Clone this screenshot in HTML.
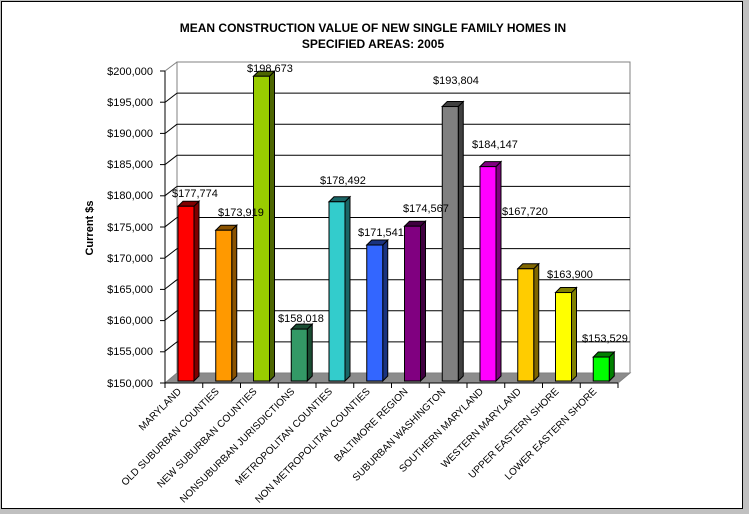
<!DOCTYPE html>
<html><head><style>
body{margin:0;background:#c0c0c0;width:749px;height:514px;overflow:hidden}
svg{display:block;font-family:"Liberation Sans",Arial,sans-serif}
</style></head><body>
<svg width="749" height="514" viewBox="0 0 749 514">
<rect x="0" y="0" width="749" height="514" fill="#c0c0c0"/>
<rect x="1.5" y="1.5" width="741" height="507" fill="#fff" stroke="#000" stroke-width="1"/>
<text x="373" y="32" font-size="12" font-weight="bold" text-anchor="middle">MEAN CONSTRUCTION VALUE OF NEW SINGLE FAMILY HOMES IN</text>
<text x="373" y="48" font-size="12" font-weight="bold" text-anchor="middle">SPECIFIED AREAS:  2005</text>
<polyline points="177,373 177,62 630,62 630,373" fill="none" stroke="#808080"/>
<g stroke="#000" stroke-width="1">
<line x1="177" y1="93.1" x2="630" y2="93.1"/>
<line x1="177" y1="124.2" x2="630" y2="124.2"/>
<line x1="177" y1="155.3" x2="630" y2="155.3"/>
<line x1="177" y1="186.4" x2="630" y2="186.4"/>
<line x1="177" y1="217.5" x2="630" y2="217.5"/>
<line x1="177" y1="248.6" x2="630" y2="248.6"/>
<line x1="177" y1="279.7" x2="630" y2="279.7"/>
<line x1="177" y1="310.8" x2="630" y2="310.8"/>
<line x1="177" y1="341.9" x2="630" y2="341.9"/>
</g>
<g stroke="#000" fill="none">
<path d="M165,102.4 L177,93.1 M165,133.5 L177,124.2 M165,164.6 L177,155.3 M165,195.7 L177,186.4 M165,226.8 L177,217.5 M165,257.9 L177,248.6 M165,289 L177,279.7 M165,320.1 L177,310.8 M165,351.2 L177,341.9"/>
</g>
<line x1="165" y1="71" x2="177" y2="62" stroke="#808080"/>
<polygon points="165,383 177,373 630,373 618,383" fill="#8c8c8c" stroke="#808080"/>
<line x1="165" y1="71" x2="165" y2="383" stroke="#000"/>
<line x1="165" y1="383" x2="618" y2="383" stroke="#000"/>
<g stroke="#000">
<line x1="160" y1="71" x2="165" y2="71"/><line x1="160" y1="102.2" x2="165" y2="102.2"/><line x1="160" y1="133.4" x2="165" y2="133.4"/><line x1="160" y1="164.6" x2="165" y2="164.6"/><line x1="160" y1="195.8" x2="165" y2="195.8"/><line x1="160" y1="227" x2="165" y2="227"/><line x1="160" y1="258.2" x2="165" y2="258.2"/><line x1="160" y1="289.4" x2="165" y2="289.4"/><line x1="160" y1="320.6" x2="165" y2="320.6"/><line x1="160" y1="351.8" x2="165" y2="351.8"/><line x1="160" y1="383" x2="165" y2="383"/>
</g>
<g font-size="11" text-anchor="end">
<text x="153" y="75">$200,000</text><text x="153" y="106">$195,000</text><text x="153" y="137">$190,000</text><text x="153" y="168">$185,000</text><text x="153" y="199">$180,000</text><text x="153" y="231">$175,000</text><text x="153" y="262">$170,000</text><text x="153" y="293">$165,000</text><text x="153" y="324">$160,000</text><text x="153" y="355">$155,000</text><text x="153" y="387">$150,000</text>
</g>
<text transform="translate(93,228) rotate(-90)" font-size="11" font-weight="bold" text-anchor="middle">Current $s</text>
<g id="ticks" stroke="#000"></g>
<g id="bars"></g>
<g id="xl" font-size="10"></g>
<g font-size="11">
<text x="172" y="197">$177,774</text>
<text x="218" y="216">$173,919</text>
<text x="247" y="72">$198,673</text>
<text x="278" y="322">$158,018</text>
<text x="320" y="184">$178,492</text>
<text x="358" y="236">$171,541</text>
<text x="403" y="212">$174,567</text>
<text x="433" y="84">$193,804</text>
<text x="472" y="148">$184,147</text>
<text x="502" y="215">$167,720</text>
<text x="547" y="278">$163,900</text>
<text x="582" y="342">$153,529</text>
</g>
</svg>
<script>
var ns="http://www.w3.org/2000/svg";
var vals=[177774,173919,198673,158018,178492,171541,174567,193804,184147,167720,163900,153529];
var cols=[["#ff0000","#800000"],["#ff9900","#8a5200"],["#99cc00","#4d6600"],["#339966","#1a4d33"],["#33cccc","#1a6666"],["#3366ff","#1a3380"],["#800080","#400040"],["#808080","#404040"],["#ff00ff","#800080"],["#ffcc00","#806600"],["#ffff00","#808000"],["#00ff00","#008000"]];
var names=["MARYLAND","OLD SUBURBAN COUNTIES","NEW SUBURBAN COUNTIES","NONSUBURBAN JURISDICTIONS","METROPOLITAN COUNTIES","NON METROPOLITAN COUNTIES","BALTIMORE REGION","SUBURBAN WASHINGTON","SOUTHERN MARYLAND","WESTERN MARYLAND","UPPER EASTERN SHORE","LOWER EASTERN SHORE"];
var step=37.75,bars=document.getElementById("bars"),tk=document.getElementById("ticks"),xl=document.getElementById("xl");
function el(t,a,p){var e=document.createElementNS(ns,t);for(var k in a)e.setAttribute(k,a[k]);p.appendChild(e);return e;}
for(var i=0;i<=12;i++){var x=165+i*step;el("line",{x1:x,y1:383,x2:x,y2:388},tk);}
for(var i=0;i<12;i++){
 var x0=165+i*step+13,w=16,d=5,yb=381,yt=379-(vals[i]-150000)/50000*311;
 el("polygon",{points:(x0+w)+","+yb+" "+(x0+w+d)+","+(yb-5)+" "+(x0+w+d)+","+(yt-5)+" "+(x0+w)+","+yt,fill:cols[i][1],stroke:"#000","stroke-width":1},bars);
 el("polygon",{points:x0+","+yt+" "+(x0+d)+","+(yt-5)+" "+(x0+w+d)+","+(yt-5)+" "+(x0+w)+","+yt,fill:cols[i][1],stroke:"#000","stroke-width":1},bars);
 el("rect",{x:x0,y:yt,width:w,height:yb-yt,fill:cols[i][0],stroke:"#000","stroke-width":1},bars);
 var cx=165+i*step+step/2;
 var t=el("text",{transform:"translate("+(cx-2)+",392) rotate(-45)","text-anchor":"end"},xl);t.textContent=names[i];
}
</script>
</body></html>
